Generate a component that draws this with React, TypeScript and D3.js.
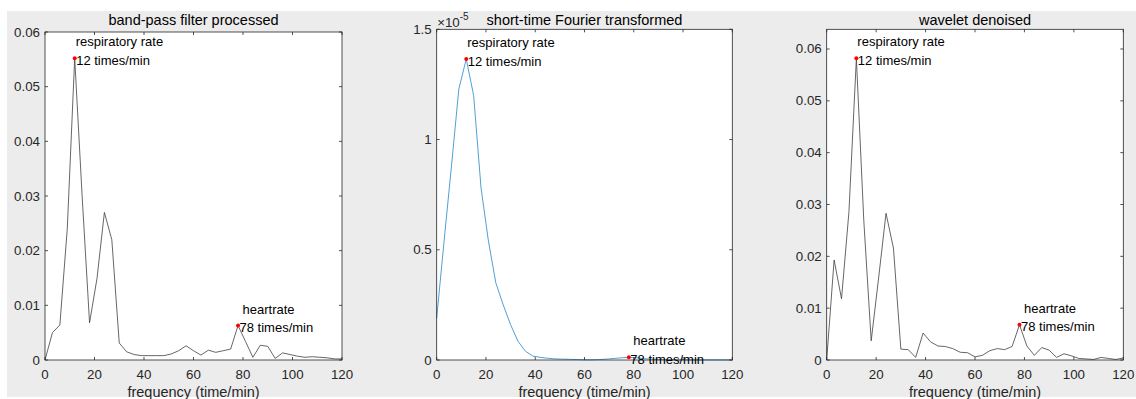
import React from "react";
import * as d3 from "d3";

const freq = [0,3,6,9,12,15,18,21,24,27,30,33,36,39,42,45,48,51,54,57,60,63,66,69,72,75,78,81,84,87,90,93,96,99,102,105,108,111,114,117,120];

const bandPass = [0,0.0050,0.0064,0.024,0.0552,0.030,0.0068,0.0149,0.0270,0.0220,0.0031,0.0015,0.0010,0.0008,0.0008,0.0008,0.0008,0.0011,0.0017,0.0026,0.0017,0.0009,0.0018,0.0014,0.0017,0.0020,0.0063,0.0034,0.0005,0.0027,0.0025,0.0003,0.0013,0.0010,0.0007,0.0005,0.0006,0.0005,0.0004,0.0002,0.0002];

const stft = [0.19e-5,0.54e-5,0.88e-5,1.23e-5,1.365e-5,1.20e-5,0.78e-5,0.54e-5,0.35e-5,0.25e-5,0.16e-5,0.085e-5,0.04e-5,0.018e-5,0.012e-5,0.008e-5,0.005e-5,0.004e-5,0.003e-5,0.002e-5,0.001e-5,0.001e-5,0.002e-5,0.004e-5,0.007e-5,0.010e-5,0.012e-5,0.010e-5,0.006e-5,0.004e-5,0.002e-5,0.001e-5,0.001e-5,0.0005e-5,0.0005e-5,0.0005e-5,0.0005e-5,0.0005e-5,0.0005e-5,0.0005e-5,0.0005e-5];

const wavelet = [0,0.0193,0.0118,0.0286,0.0582,0.027,0.0037,0.0158,0.0283,0.0216,0.0021,0.0020,0.0005,0.0052,0.0035,0.0027,0.0026,0.0022,0.0015,0.0014,0.0006,0.0009,0.0018,0.0022,0.0020,0.0026,0.0068,0.0027,0.0009,0.0024,0.0019,0.0005,0.0012,0.0008,0.0003,0.0002,0.0001,0.0005,0.0003,0.0001,0.0004];

const titles = ["band-pass filter processed", "short-time Fourier transformed", "wavelet denoised"];
const xTicks = [0, 20, 40, 60, 80, 100, 120];
const yTicksA = [0, 0.01, 0.02, 0.03, 0.04, 0.05, 0.06];
const yTicksB = [0, 0.5e-5, 1e-5, 1.5e-5];
const yTickLabelsB = ["0", "0.5", "1", "1.5"];
const peakResp = 12;
const peakHeart = 78;
const respLabel = "respiratory rate";
const heartLabel = "heartrate";
const xLabel = "frequency (time/min)";

const FONT = "'Liberation Sans', Arial, Helvetica, sans-serif";
const AX = "#262626";

type PanelProps = {
  left: number; right: number; top: number; bottom: number;
  yMax: number; values: number[]; yTicks: number[]; yLabels: string[];
  title: string; color: string; lineWidth: number; exponent?: boolean;
};

function Panel(p: PanelProps) {
  const x = d3.scaleLinear().domain([0, 120]).range([p.left, p.right]);
  const y = d3.scaleLinear().domain([0, p.yMax]).range([p.bottom, p.top]);
  const line = d3.line<number>().x((_, i) => x(freq[i])).y((d) => y(d));
  const iR = freq.indexOf(peakResp);
  const iH = freq.indexOf(peakHeart);
  const rx = x(freq[iR]), ry = y(p.values[iR]);
  const hx = x(freq[iH]), hy = y(p.values[iH]);
  const tl = 3;
  return (
    <g>
      <rect x={p.left} y={p.top} width={p.right - p.left} height={p.bottom - p.top} fill="#ffffff" />
      <path d={line(p.values) || ""} fill="none" stroke={p.color} strokeWidth={p.lineWidth} strokeLinejoin="round" />
      {xTicks.map((t) => (
        <g key={"x" + t}>
          <line x1={x(t)} x2={x(t)} y1={p.bottom} y2={p.bottom - tl} stroke={AX} strokeWidth={0.8} />
          <line x1={x(t)} x2={x(t)} y1={p.top} y2={p.top + tl} stroke={AX} strokeWidth={0.8} />
          <text x={x(t)} y={p.bottom + 19} textAnchor="middle" fontSize={13.3} fill={AX} fontFamily={FONT}>{t}</text>
        </g>
      ))}
      {p.yTicks.map((t, i) => (
        <g key={"y" + i}>
          <line x1={p.left} x2={p.left + tl} y1={y(t)} y2={y(t)} stroke={AX} strokeWidth={0.8} />
          <line x1={p.right} x2={p.right - tl} y1={y(t)} y2={y(t)} stroke={AX} strokeWidth={0.8} />
          <text x={p.left - 5} y={y(t) + 4.5} textAnchor="end" fontSize={13.3} fill={AX} fontFamily={FONT}>{p.yLabels[i]}</text>
        </g>
      ))}
      <rect x={p.left} y={p.top} width={p.right - p.left} height={p.bottom - p.top} fill="none" stroke={AX} strokeWidth={0.8} />
      <text x={(p.left + p.right) / 2} y={25} textAnchor="middle" fontSize={14.5} fill="#000" fontFamily={FONT}>{p.title}</text>
      <text x={(p.left + p.right) / 2} y={p.bottom + 37} textAnchor="middle" fontSize={14.5} fill={AX} fontFamily={FONT}>{xLabel}</text>
      {p.exponent && (
        <text x={p.left + 0.5} y={p.top - 2} fontSize={13.3} fill={AX} fontFamily={FONT}>
          ×10<tspan dy={-7} fontSize={10}>-5</tspan>
        </text>
      )}
      <circle cx={rx} cy={ry} r={2} fill="#ff0000" />
      <circle cx={hx} cy={hy} r={2} fill="#ff0000" />
      <text x={rx + 1} y={ry - 12} fontSize={13} fill="#000" fontFamily={FONT}>{respLabel}</text>
      <text x={rx + 1.5} y={ry + 6.5} fontSize={13} fill="#000" fontFamily={FONT}>{`${peakResp} times/min`}</text>
      <text x={hx + 4.5} y={hy - 12} fontSize={13} fill="#000" fontFamily={FONT}>{heartLabel}</text>
      <text x={hx + 1.5} y={hy + 6.5} fontSize={13} fill="#000" fontFamily={FONT}>{`${peakHeart} times/min`}</text>
    </g>
  );
}

export default function App() {
  const labelsA = yTicksA.map((t) => String(+t.toFixed(2)));
  return (
    <svg width={1136} height={399} style={{ position: "absolute", left: 0, top: 0, background: "#fff" }}>
      <rect x={7} y={11} width={1129} height={386} fill="#ececec" />
      <Panel left={45} right={342} top={32} bottom={360} yMax={0.06} values={bandPass}
        yTicks={yTicksA} yLabels={labelsA} title={titles[0]} color="#404040" lineWidth={0.8} />
      <Panel left={436.7} right={732.3} top={29.3} bottom={360} yMax={1.5e-5} values={stft}
        yTicks={yTicksB} yLabels={yTickLabelsB} title={titles[1]} color="#3d94d0" lineWidth={0.9} exponent />
      <Panel left={826.7} right={1123.3} top={29.3} bottom={360} yMax={0.0638} values={wavelet}
        yTicks={yTicksA} yLabels={labelsA} title={titles[2]} color="#404040" lineWidth={0.8} />
    </svg>
  );
}
